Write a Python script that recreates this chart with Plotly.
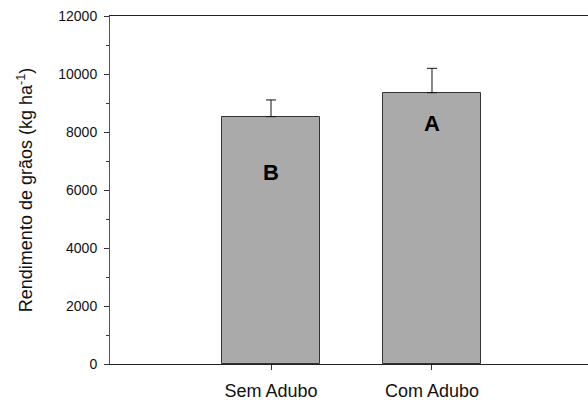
import plotly.graph_objects as go

categories = ["Sem Adubo", "Com Adubo"]
values = [8530, 9355]
errors = [575, 840]
letters = ["B", "A"]
letter_y = [6620, 8280]
y_ticks = [0, 2000, 4000, 6000, 8000, 10000, 12000]

xpos = list(range(len(categories)))

fig = go.Figure()
fig.add_trace(go.Bar(
    x=xpos, y=values, width=0.61,
    marker=dict(color="#aaaaaa", line=dict(color="#333333", width=1)),
    error_y=dict(type="data", array=errors, arrayminus=[0, 0], symmetric=False,
                 color="#111111", thickness=1, width=5),
    showlegend=False,
))

for xp, t, yv in zip(xpos, letters, letter_y):
    fig.add_annotation(x=xp, y=yv, text="<b>%s</b>" % t, showarrow=False,
                       font=dict(size=22, color="black", family="Liberation Sans, Arial"))

fig.update_layout(
    width=588, height=400,
    margin=dict(l=110, r=0, t=16, b=36),
    paper_bgcolor="white", plot_bgcolor="white",
    font=dict(family="Liberation Sans, Arial", color="#111111"),
    bargap=0,
)
fig.update_xaxes(
    range=[-1, 1.969], tickmode="array", tickvals=xpos, ticktext=categories,
    showline=True, linecolor="#222222", linewidth=1.2, mirror=True,
    ticks="outside", ticklen=5, tickcolor="#333333",
    tickfont=dict(size=18), ticklabelstandoff=5, showgrid=False, zeroline=False,
)
fig.update_yaxes(
    range=[0, 12000], tickmode="array", tickvals=y_ticks, tickformat="d",
    showline=True, linecolor="#555555", linewidth=1,
    ticks="outside", ticklen=5, tickcolor="#333333",
    minor=dict(dtick=1000, ticks="outside", ticklen=3, tickcolor="#333333"),
    tickfont=dict(size=14), ticklabelstandoff=4, showgrid=False, zeroline=False,
    title=dict(text="Rendimento de grãos (kg ha<sup>-1</sup>)", font=dict(size=18), standoff=20),
)

fig.write_html("out.html")
